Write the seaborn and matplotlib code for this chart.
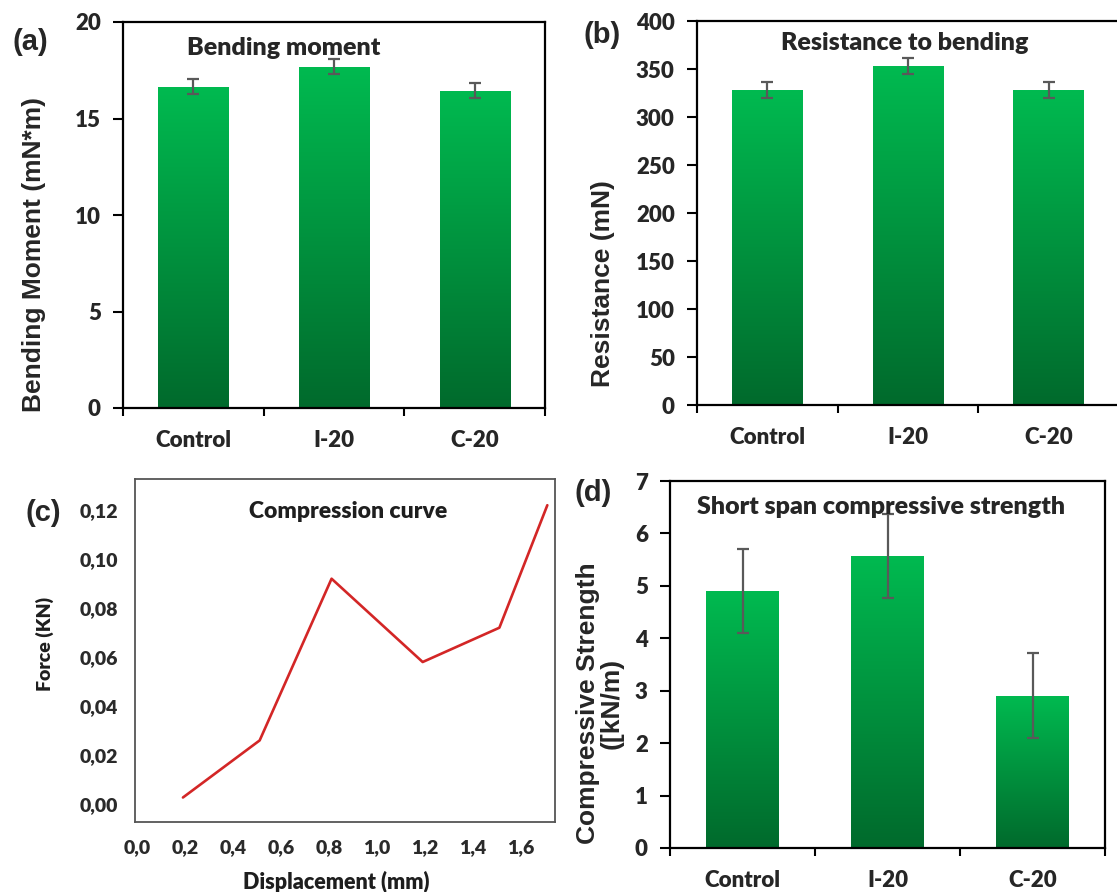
import numpy as np
import matplotlib
matplotlib.use("Agg")
import matplotlib.pyplot as plt
import seaborn as sns
from matplotlib.colors import LinearSegmentedColormap
from matplotlib.ticker import FuncFormatter

# data
groups = ["Control", "I-20", "C-20"]
bending_moment = [16.65, 17.68, 16.44]
bending_moment_err = [0.4, 0.39, 0.4]
resistance = [328, 353, 328]
resistance_err = [8.5, 8.5, 8.5]
compressive = [4.9, 5.57, 2.9]
compressive_err = [0.8, 0.81, 0.81]
displacement = [0.19, 0.51, 0.81, 1.19, 1.51, 1.71]
force = [0.0027, 0.026, 0.092, 0.058, 0.072, 0.122]

sns.set_style("white")
plt.rcParams["font.family"] = ["Lato", "DejaVu Sans"]
plt.rcParams["font.weight"] = "bold"

W, H = 1117, 892
fig = plt.figure(figsize=(W / 100, H / 100), dpi=100)


def box(l, t, r, b):
    return [l / W, 1 - b / H, (r - l) / W, (b - t) / H]


def ftext(x, y, s, **kw):
    fig.text(x / W, 1 - y / H, s, ha="center", va="center", **kw)


green = LinearSegmentedColormap.from_list("g", ["#006A2C", "#00BA50"])
grad = np.linspace(1, 0, 256).reshape(-1, 1)


def bar_panel(ax, values, errs, ymax, step):
    sns.barplot(x=groups, y=values, ax=ax, color="#00B74F", saturation=1,
                width=0.5, errorbar=None)
    for p in ax.patches:
        x0, y0 = p.get_x(), p.get_y()
        im = ax.imshow(grad, extent=[x0, x0 + p.get_width(), y0, y0 + p.get_height()],
                       aspect="auto", cmap=green, zorder=p.get_zorder() + 0.1)
        im.set_clip_path(p)
    xs = [p.get_x() + p.get_width() / 2 for p in ax.patches]
    ax.errorbar(xs, values, yerr=errs, fmt="none", ecolor="#595959",
                elinewidth=1.6, capsize=4.5, capthick=1.6, zorder=5)
    ax.set_xlim(-0.5, 2.5)
    ax.set_ylim(0, ymax)
    ax.set_yticks(np.arange(0, ymax + step / 2, step))
    ax.set_xticks([-0.5, 0.5, 1.5, 2.5])
    ax.set_xticklabels([])
    ax.set_xticks([0, 1, 2], minor=True)
    ax.set_xticklabels(groups, minor=True)
    ax.tick_params(axis="x", which="major", direction="out", length=6, width=1.5,
                   bottom=True, color="black")
    ax.tick_params(axis="x", which="minor", length=0, pad=16, labelsize=16)
    ax.tick_params(axis="y", direction="out", length=7, width=1.5, left=True,
                   pad=9, labelsize=16, color="black")
    for lab in ax.get_yticklabels() + ax.get_xticklabels(minor=True):
        lab.set_fontweight("heavy")
    for s in ax.spines.values():
        s.set_linewidth(1.6)
        s.set_color("black")
    ax.set_xlabel("")
    ax.set_ylabel("")


# (a)
ax_a = fig.add_axes(box(123, 22, 545, 408))
bar_panel(ax_a, bending_moment, bending_moment_err, 20, 5)
ftext(284, 48, "Bending moment", fontsize=18, fontweight="heavy")
ftext(34, 255, "Bending Moment (mN*m)", rotation=90, fontsize=19,
      fontweight="bold", family="Liberation Sans")
ftext(30, 42, "(a)", fontsize=21, fontweight="bold", family="Liberation Sans")

# (b)
ax_b = fig.add_axes(box(697, 21, 1119, 405))
bar_panel(ax_b, resistance, resistance_err, 400, 50)
ftext(905, 43, "Resistance to bending", fontsize=18, fontweight="heavy")
ftext(603, 284, "Resistance (mN)", rotation=90, fontsize=19,
      fontweight="bold", family="Liberation Sans")
ftext(602, 35, "(b)", fontsize=21, fontweight="bold", family="Liberation Sans")

# (c)
ax_c = fig.add_axes(box(135, 479, 555, 822))
sns.lineplot(x=displacement, y=force, ax=ax_c, color="#D32626", linewidth=1.9)
ax_c.set_xlim(-0.01, 1.742)
ax_c.set_ylim(-0.0073, 0.1327)
ax_c.set_xticks(np.arange(0, 1.61, 0.2))
ax_c.set_yticks(np.arange(0, 0.121, 0.02))
ax_c.xaxis.set_major_formatter(FuncFormatter(lambda v, p: f"{v:.1f}".replace(".", ",")))
ax_c.yaxis.set_major_formatter(FuncFormatter(lambda v, p: f"{v:.2f}".replace(".", ",")))
ax_c.tick_params(axis="x", length=0, pad=12, labelsize=14, labelcolor="#2a2a2a")
ax_c.tick_params(axis="y", length=0, pad=12, labelsize=14, labelcolor="#2a2a2a")
for lab in ax_c.get_xticklabels() + ax_c.get_yticklabels():
    lab.set_fontweight("heavy")
for s in ax_c.spines.values():
    s.set_linewidth(1.3)
    s.set_color("#555555")
ax_c.set_xlabel("")
ax_c.set_ylabel("")
ftext(348, 512, "Compression curve", fontsize=16.5, fontweight="heavy", color="#1e1e1e")
ftext(45, 644, "Force (KN)", rotation=90, fontsize=14, fontweight="heavy", color="#1e1e1e")
ftext(336, 882, "Displacement (mm)", fontsize=15.5, fontweight="heavy", color="#1e1e1e")
ftext(43, 513, "(c)", fontsize=21, fontweight="bold", family="Liberation Sans")

# (d)
ax_d = fig.add_axes(box(670, 481, 1105, 848))
bar_panel(ax_d, compressive, compressive_err, 7, 1)
ftext(881, 507, "Short span compressive strength", fontsize=18, fontweight="heavy")
ftext(600, 703, "Compressive Strength\n([kN/m)", rotation=90, fontsize=19,
      fontweight="bold", family="Liberation Sans", multialignment="center",
      linespacing=1.0)
ftext(593, 493, "(d)", fontsize=21, fontweight="bold", family="Liberation Sans")

fig.savefig("out.png", dpi=100)
